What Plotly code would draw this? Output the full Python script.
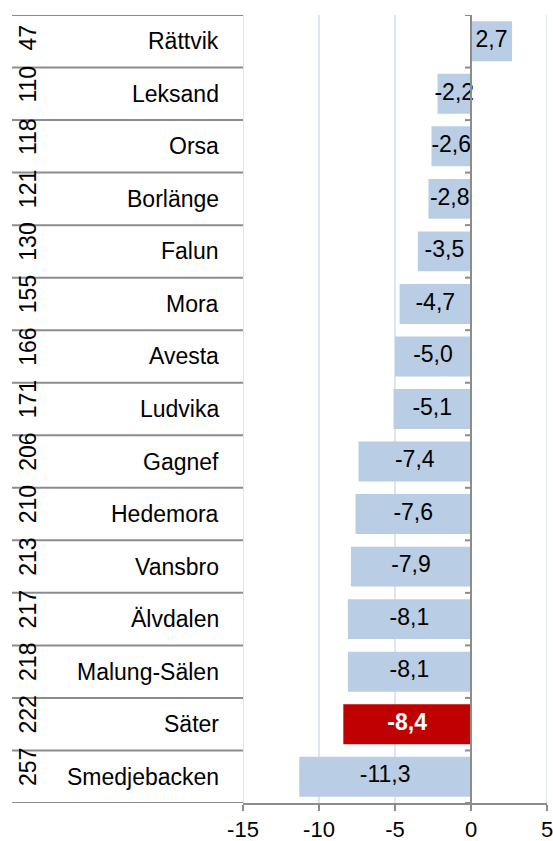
import plotly.graph_objects as go

# ---- data ----
ranks = [47, 110, 118, 121, 130, 155, 166, 171, 206, 210, 213, 217, 218, 222, 257]
municipalities = ["Rättvik", "Leksand", "Orsa", "Borlänge", "Falun", "Mora", "Avesta",
                  "Ludvika", "Gagnef", "Hedemora", "Vansbro", "Älvdalen", "Malung-Sälen",
                  "Säter", "Smedjebacken"]
values = [2.7, -2.2, -2.6, -2.8, -3.5, -4.7, -5.0, -5.1, -7.4, -7.6, -7.9, -8.1, -8.1, -8.4, -11.3]
highlight = "Säter"
x_ticks = [-15, -10, -5, 0, 5]

# ---- styling ----
FONT = "Liberation Sans, Arial, sans-serif"
FS = 23
BAR = "#b9cde5"
RED = "#c00000"
GRID = "#dce6f2"
AXIS = "#8c8c8c"

W, H = 553, 841
L, R, T, B = 243, 6, 15, 38
plot_w = W - L - R
plot_h = H - T - B
n = len(municipalities)
row_h = plot_h / n

def px_to_paper_x(px):
    return (px - L) / plot_w

idx = list(range(n))
colors = [RED if m == highlight else BAR for m in municipalities]
labels = []
label_colors = []
for m, v in zip(municipalities, values):
    s = f"{v:.1f}".replace(".", ",")
    if m == highlight:
        labels.append(f"<b>{s}</b>")
        label_colors.append("white")
    else:
        labels.append(s)
        label_colors.append("black")

fig = go.Figure()
fig.add_trace(go.Bar(
    x=values, y=idx, orientation="h",
    marker=dict(color=colors, line=dict(width=0)),
    width=0.76, hoverinfo="skip", showlegend=False,
))
fig.add_trace(go.Scatter(
    x=[v / 2 for v in values], y=idx, mode="text",
    text=labels, textposition="middle center",
    textfont=dict(family=FONT, size=FS, color=label_colors),
    hoverinfo="skip", showlegend=False, cliponaxis=False,
))

shapes = []
# edge gridlines (plotly skips gridlines on the range ends)
for xv in (x_ticks[0], x_ticks[-1]):
    shapes.append(dict(type="line", xref="x", yref="paper", x0=xv, x1=xv, y0=0, y1=1,
                       layer="below", line=dict(color=GRID, width=2)))
# table horizontal lines (left of plot) at row boundaries
for k in range(n + 1):
    yb = k - 0.5
    shapes.append(dict(type="line", xref="paper", yref="y",
                       x0=px_to_paper_x(12), x1=0, y0=yb, y1=yb,
                       line=dict(color=AXIS, width=2)))
# zero axis line and its left ticks at category boundaries
shapes.append(dict(type="line", xref="x", yref="y", x0=0, x1=0, y0=-0.5, y1=n - 0.5,
                   line=dict(color=AXIS, width=2)))
tick_len_units = 6 / (plot_w / (x_ticks[-1] - x_ticks[0]))
for k in range(n + 1):
    yb = k - 0.5
    shapes.append(dict(type="line", xref="x", yref="y", x0=-tick_len_units, x1=0,
                       y0=yb, y1=yb, line=dict(color=AXIS, width=2)))

annotations = []
for i, (rk, m) in enumerate(zip(ranks, municipalities)):
    annotations.append(dict(
        xref="paper", yref="y", x=px_to_paper_x(221), y=i,
        text=m, showarrow=False, xanchor="right", yanchor="middle",
        font=dict(family=FONT, size=FS, color="black"),
    ))
    annotations.append(dict(
        xref="paper", yref="y", x=px_to_paper_x(28), y=i + 0.5 - 15 / row_h,
        text=str(rk), showarrow=False, textangle=-90,
        xanchor="center", yanchor="bottom",
        font=dict(family=FONT, size=FS, color="black"),
    ))

fig.update_layout(
    width=W, height=H,
    margin=dict(l=L, r=R, t=T, b=B, pad=0),
    paper_bgcolor="white", plot_bgcolor="white",
    font=dict(family=FONT, size=FS, color="black"),
    shapes=shapes, annotations=annotations,
    bargap=0.24,
    xaxis=dict(
        range=[x_ticks[0], x_ticks[-1]], tickvals=x_ticks,
        ticktext=[str(t) for t in x_ticks],
        showgrid=True, gridcolor=GRID, gridwidth=2,
        zeroline=False, showline=True, linecolor=AXIS, linewidth=2,
        ticks="outside", ticklen=6, tickwidth=2, tickcolor=AXIS,
        tickfont=dict(family=FONT, size=22, color="black"),
        ticklabeloverflow="allow",
        automargin=False, fixedrange=True,
    ),
    yaxis=dict(
        range=[n - 0.5, -0.5], showticklabels=False, showgrid=False,
        zeroline=False, showline=False, ticks="", automargin=False, fixedrange=True,
    ),
)

fig.write_html(
    "out.html",
    config={"displayModeBar": False},
    post_script="document.body.style.margin='0';document.body.style.overflow='hidden';",
)
